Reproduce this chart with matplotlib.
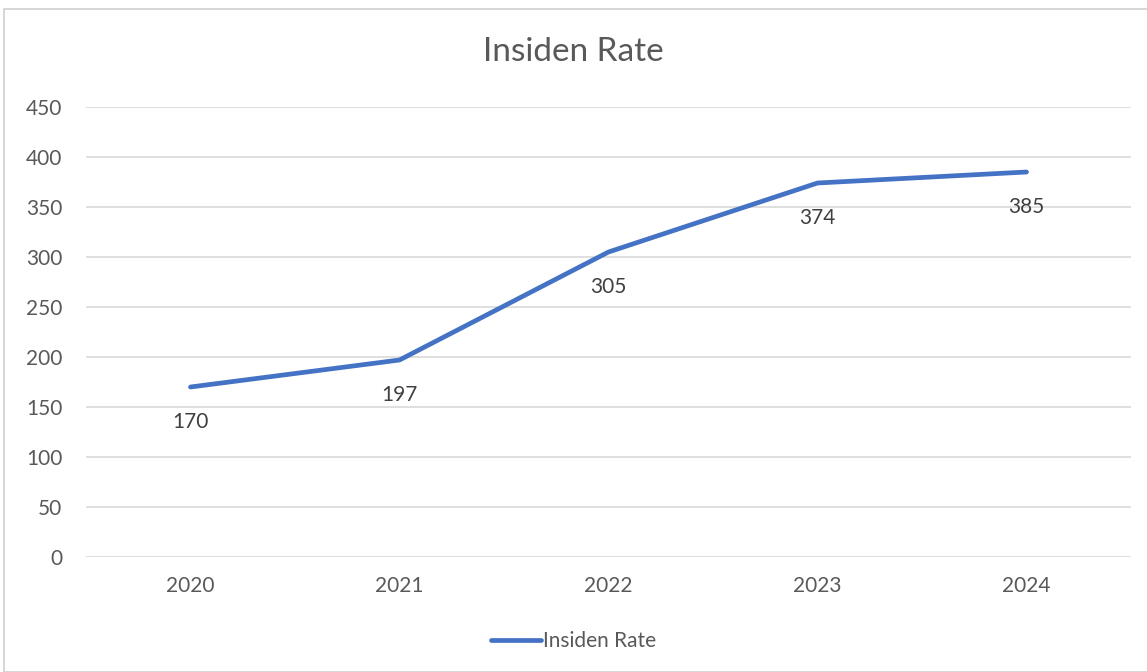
import matplotlib
matplotlib.use("Agg")
import matplotlib.pyplot as plt
from matplotlib.patches import Rectangle

# data
years = ["2020", "2021", "2022", "2023", "2024"]
rates = [170, 197, 305, 374, 385]
yticks = [0, 50, 100, 150, 200, 250, 300, 350, 400, 450]

plt.rcParams['font.family'] = ['Lato', 'DejaVu Sans']

W, H = 1147, 672
fig = plt.figure(figsize=(W / 100, H / 100), dpi=100)

# chart frame
fig.patches.append(Rectangle((4 / W, 0), 1.2, 1 - 9 / H, transform=fig.transFigure,
                             fill=False, edgecolor="#D0D0D0", linewidth=1.2))

ax = fig.add_axes([86 / W, 1 - 557 / H, (1131 - 86) / W, (557 - 107) / H])
x = list(range(len(years)))
line, = ax.plot(x, rates, color="#4472C4", linewidth=3.4, solid_capstyle="round",
                label="Insiden Rate", zorder=3)

for xi, v in zip(x, rates):
    ax.annotate(str(v), (xi, v), xytext=(0, -35), textcoords="offset pixels",
                ha="center", va="center", fontsize=15, color="#404040")

ax.set_xlim(-0.5, len(years) - 0.5)
ax.set_ylim(0, 450)
ax.set_yticks(yticks)
ax.set_xticks(x)
ax.set_xticklabels(years)
ax.grid(axis="y", color="#D9D9D9", linewidth=1.2)
ax.set_axisbelow(True)
for s in ax.spines.values():
    s.set_visible(False)
ax.tick_params(length=0, labelsize=15, labelcolor="#595959")
ax.tick_params(axis="y", pad=17)
ax.tick_params(axis="x", pad=14)

fig.text(0.5, 1 - 52 / H, "Insiden Rate", ha="center", va="center",
         fontsize=24, color="#595959")

leg = fig.legend(handles=[line], loc="center", bbox_to_anchor=(0.5, 1 - 641 / H),
                 frameon=False, fontsize=15, handlelength=2.4, handletextpad=0.1,
                 labelcolor="#595959")

fig.savefig("out.png", dpi=100)
